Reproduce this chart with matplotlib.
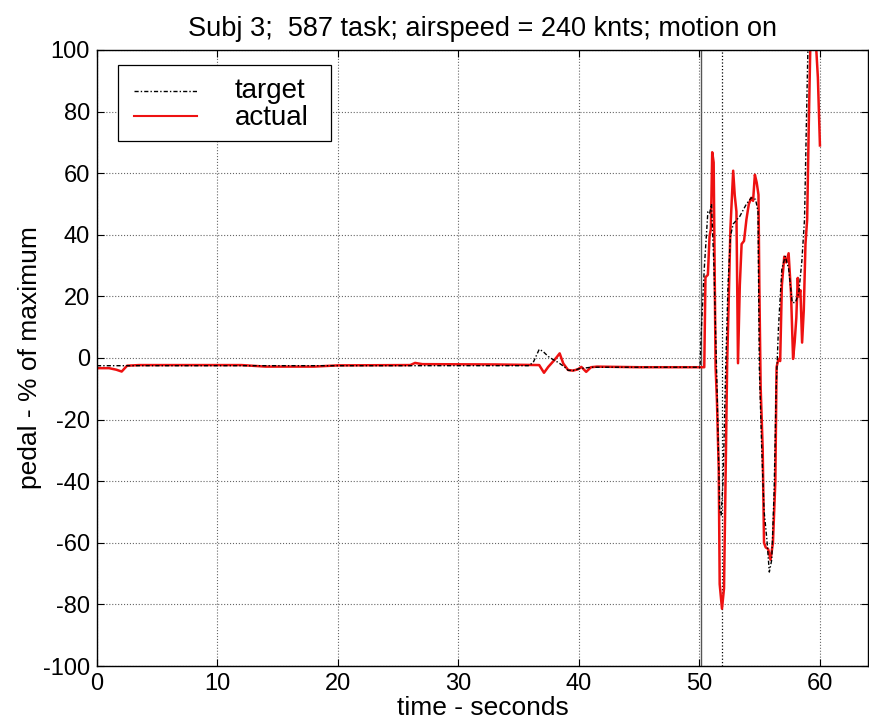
import matplotlib
matplotlib.use("Agg")
import matplotlib.pyplot as plt
from matplotlib.patches import Rectangle
from matplotlib.lines import Line2D

plt.rcParams['font.family'] = ['Liberation Sans', 'DejaVu Sans']
plt.rcParams['axes.unicode_minus'] = False

# ---- data ----
actual_t = [0, 1.0, 1.6, 2.05, 2.5, 3.5, 12, 14, 18, 20, 26.0, 26.4, 27, 33, 36.7,
            37.1, 37.45, 38.0, 38.4, 38.7, 39.1, 39.5, 39.9, 40.2, 40.6, 41.0, 41.5,
            45, 48, 50.4, 50.5, 50.7, 50.84, 50.95, 51.06, 51.18, 51.26, 51.34, 51.45,
            51.6, 51.68, 51.87, 52.04, 52.18, 52.3, 52.46, 52.57, 52.8, 52.93, 53.07,
            53.2, 53.35, 53.5, 53.7, 53.9, 54.1, 54.3, 54.45, 54.6, 54.75, 54.9, 54.97,
            55.08, 55.25, 55.36, 55.5, 55.7, 55.9, 56.1, 56.3, 56.4, 56.56, 56.7,
            56.84, 57.04, 57.2, 57.4, 57.6, 57.77, 57.9, 58.04, 58.16, 58.24, 58.38,
            58.52, 58.66, 58.8, 58.94, 59.08, 59.22, 59.4, 59.64, 59.83, 60.0]
actual_v = [-3.3, -3.3, -3.8, -4.4, -2.5, -2.3, -2.3, -2.8, -2.8, -2.4, -2.3, -1.6,
            -2.0, -2.1, -2.3, -4.8, -2.9, -0.5, 1.5, -1.8, -3.9, -4.1, -3.7, -2.9,
            -4.5, -3.0, -2.8, -3.0, -3.0, -3.0, 26.2, 27, 39.5, 42, 66.8, 63.5, 30,
            -3, -13.6, -36, -73.4, -81.4, -74.8, -36, -1.7, 23.6, 42, 60.8, 52.8, 47.5,
            -1.7, 23.6, 37, 38, 45, 50, 52, 51, 59.5, 57, 53, 23.6, -9.6, -29.6, -60,
            -61.5, -62, -65.5, -60, -40, -3, -0.3, -1, 23.6, 32.9, 31, 34, 21, -0.3, 5,
            13, 26, 20, 22, 5, 15.6, 37, 45, 77, 105, 104, 104, 91, 69]

target_t = [0, 26, 35.8, 36.2, 36.7, 37.0, 37.45, 37.85, 38.3, 38.8, 39.1, 39.5, 40,
            41, 45, 50.05, 50.14, 50.4, 50.7, 50.85, 51.0, 51.2, 51.45, 51.68, 51.8,
            51.96, 52.18, 52.37, 52.57, 52.8, 53.35, 53.9, 54.3, 54.66, 54.86, 54.97,
            55.17, 55.36, 55.6, 55.8, 56.0, 56.2, 56.37, 56.56, 56.84, 57.12, 57.4,
            57.7, 57.96, 58.24, 58.5, 58.72, 58.88, 59.0, 59.1]
target_v = [-2.5, -2.5, -2.5, -1.5, 2.8, 2.2, 0.5, -0.5, -1.5, -2.9, -4.0, -4.1, -3.5,
            -3.0, -3.0, -3.0, 7.6, 29, 47.5, 47, 50, 30, -8, -49.5, -51, -40, -3, 23.6,
            39.5, 43.5, 46, 50, 52, 51.5, 47.5, -3, -29.6, -49.5, -59, -69.5, -65.5,
            -43, -9.6, 10, 29, 33, 29, 18, 18, 21, 31.5, 45, 77, 100, 110]

marker_t = [50.1, 51.9]

x_ticks = [0, 10, 20, 30, 40, 50, 60]
y_ticks = [-100, -80, -60, -40, -20, 0, 20, 40, 60, 80, 100]

series_labels = ['target', 'actual']

RED = '#ee1111'
TARGET_LS = (0, (3, 1.5, 1, 1.5))

fig = plt.figure(figsize=(8.69, 7.19), dpi=100)
ax = fig.add_axes([0.1116, 0.0737, 0.8874, 0.8568])

ax.axvline(marker_t[0], color='#555555', lw=1.0, zorder=1)
ax.axvline(marker_t[1], color='black', lw=0.9, ls=':', zorder=1)

ax.plot(target_t, target_v, color='black', lw=1.0, ls=TARGET_LS, zorder=3)
ax.plot(actual_t, actual_v, color=RED, lw=1.8, zorder=2)

ax.set_xlim(0, 64)
ax.set_ylim(-100, 100)
ax.set_xticks(x_ticks)
ax.set_yticks(y_ticks)
ax.tick_params(direction='in', labelsize=17, top=True, right=True, length=5, pad=5)
ax.grid(True, color='#666666', ls=':', lw=0.8)
for s in ax.spines.values():
    s.set_linewidth(1.0)

ax.set_xlabel('time - seconds', fontsize=19, labelpad=1)
ax.set_ylabel('pedal - % of maximum', fontsize=19, labelpad=1)
ax.set_title('Subj 3;  587 task; airspeed = 240 knts; motion on', fontsize=19.5, pad=10)

# legend drawn MATLAB-style in axes coordinates
tr = ax.transAxes
ax.add_patch(Rectangle((0.0272, 0.8523), 0.2763, 0.1233, transform=tr,
                       facecolor='white', edgecolor='black', lw=0.9, zorder=5))
ax.add_line(Line2D([0.048, 0.1297], [0.9334, 0.9334], transform=tr, color='black',
                   lw=1.0, ls=TARGET_LS, zorder=6))
ax.add_line(Line2D([0.048, 0.1297], [0.8929, 0.8929], transform=tr, color=RED,
                   lw=1.5, zorder=6))
ax.text(0.179, 0.9221, series_labels[0], transform=tr, fontsize=20, va='baseline',
        ha='left', zorder=7)
ax.text(0.179, 0.8782, series_labels[1], transform=tr, fontsize=20, va='baseline',
        ha='left', zorder=7)

fig.savefig('out.png', dpi=100)
